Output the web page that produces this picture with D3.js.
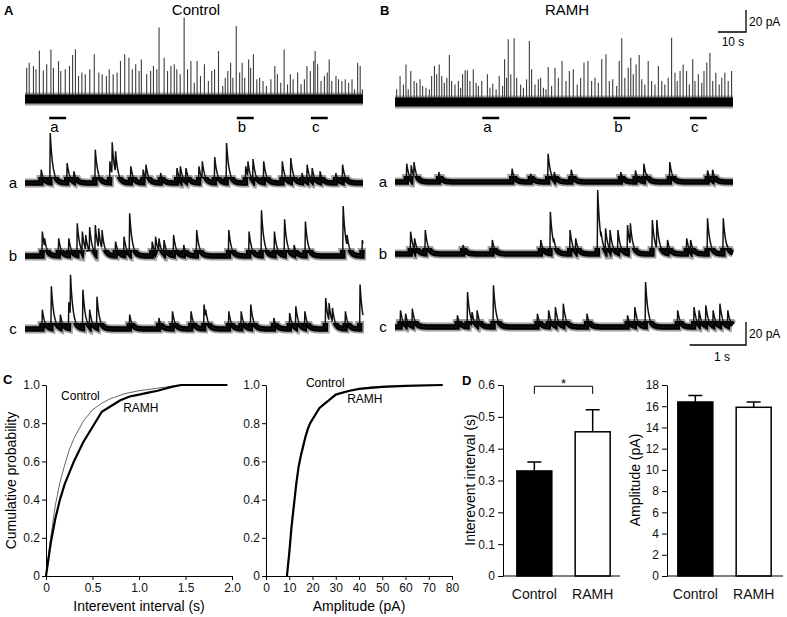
<!DOCTYPE html>
<html>
<head>
<meta charset="utf-8">
<script src="https://cdn.jsdelivr.net/npm/d3@7"></script>
<style>
  body { margin: 0; background: #fff; }
  svg { font-family: "Liberation Sans", Arial, sans-serif; }
</style>
</head>
<body>
<div id="fig"></div>
<script>
// ---------------- data ----------------
// overview recordings: [time (s), peak amplitude (pA)]
var ctrlOverview = [[0.6,28.5],[1.5,33],[3.0,30],[3.9,27],[5.1,44],[6.5,26],[7.7,31.5],[9.2,45],[10.1,28.5],[11.9,34.5],[12.7,25.5],[14.3,27],[15.8,30],[16.9,40],[17.9,45],[19.0,21],[20.2,24],[21.4,22.5],[23.0,27],[24.6,40.6],[26.2,24],[27.4,22.5],[28.9,21],[29.9,27],[31.3,22.5],[32.7,24],[33.9,34.5],[35.4,40.6],[36.9,37.5],[38.1,27],[39.3,31.5],[40.5,25.5],[41.3,36],[43.2,22.5],[44.6,25.5],[45.6,30],[46.8,27],[47.6,65],[49.4,37.5],[50.6,25.5],[51.8,30],[53.0,31.5],[53.9,27],[55.1,22.5],[56.5,74],[57.7,27],[58.9,34.5],[60.1,14.8],[61.1,34.5],[62.3,21],[63.7,31.5],[65.1,16.4],[66.3,25.5],[67.3,27],[68.7,43.6],[70.2,11.8],[71.1,19.4],[72.0,25.5],[73.0,33],[73.8,19.4],[75.0,66.4],[76.2,24],[77.1,33],[78.0,19.4],[79.4,36],[80.1,28.5],[81.1,40.6],[82.3,18],[83.3,19.4],[84.5,16.4],[85.7,11.8],[87.3,18],[88.7,30],[89.6,22.5],[90.8,14.8],[92.0,45],[93.2,13.3],[94.2,22.5],[95.2,18],[96.8,24],[98.0,13.3],[99.2,18],[100.1,30],[101.3,25.5],[102.5,34.5],[103.0,43.6],[103.9,31.5],[105.1,16.4],[106.3,21],[107.3,24],[108.0,36],[108.9,16.4],[110.4,21],[111.3,18],[112.5,16.4],[113.7,18],[114.9,14.8],[116.1,18],[117.0,8.8],[118.1,33],[119.0,30],[119.8,8.8]];
var ramhOverview = [[0.6,11.5],[1.8,23.6],[3.0,16],[3.9,34.2],[4.7,11.5],[5.6,28.2],[6.8,19],[7.7,17.6],[8.9,20.6],[9.8,14.5],[11.0,13],[12.2,11.5],[13.0,23.6],[14.0,32.7],[14.8,25.2],[15.7,34.2],[16.6,23.6],[17.5,17.6],[18.4,22.1],[19.3,42.7],[20.1,19],[21.3,16],[22.5,19],[23.3,13],[24.0,25.2],[24.9,28.8],[25.7,28.8],[26.6,19],[27.8,29.7],[28.8,17.6],[29.6,14.5],[30.8,19],[32.8,25.2],[33.7,13],[34.7,16.7],[35.9,11.5],[37.0,23.6],[38.2,14.5],[38.9,38.8],[39.6,22.1],[40.2,57],[41.1,25.2],[42.3,57.9],[43.2,22.1],[44.6,16],[45.6,13],[46.7,20.6],[47.7,55.5],[48.5,29.7],[49.7,16],[50.9,20.6],[51.7,22.1],[52.7,13],[53.6,11.5],[54.4,31.8],[55.6,14.5],[56.8,31.2],[58.0,22.1],[59.3,37.3],[60.7,19],[61.9,28.2],[63.3,29.7],[64.7,16],[65.9,22.1],[67.1,35.8],[68.5,37.3],[69.8,19],[71.0,22.1],[72.2,17.6],[73.4,38.8],[74.9,43.3],[76.1,19],[77.3,20.6],[78.7,14.5],[79.6,37.3],[80.5,57.9],[81.6,22.1],[82.8,31.2],[83.7,40.3],[84.6,25.2],[85.6,34.2],[86.7,42.7],[87.6,20.6],[88.7,16],[89.9,37.3],[91.1,19],[92.3,16],[93.5,32.7],[94.7,19],[95.8,16],[97.0,22.1],[98.2,58.5],[99.4,26.7],[100.2,19],[101.2,28.2],[102.3,34.2],[103.5,28.2],[104.5,16],[105.7,38.8],[106.5,19],[107.7,25.2],[108.9,17.6],[109.7,28.2],[110.7,35.8],[111.8,44.8],[112.8,19],[113.9,26.7],[115.1,16],[116.0,22.1],[117.1,26.7],[118.3,19],[119.5,28.2]];

// start of the expanded 6 s windows a, b, c (s)
var windowLabels = ["a", "b", "c"];
var ctrlWindows = [8.6, 75.2, 101.5];
var ramhWindows = [31.0, 77.5, 104.7];

// expanded traces: [time (s), peak amplitude (pA)]
var ctrlA = [[0.28,11.6],[0.44,43.5],[0.74,17.4],[0.86,10.1],[1.24,29],[1.50,18.8],[1.54,35.4],[1.60,27.5],[1.87,14.5],[2.09,11.6],[2.14,15.9],[2.40,8.7],[2.69,13],[2.75,14.5],[2.85,13],[3.08,14.5],[3.14,18.8],[3.36,22.6],[3.57,34.8],[3.91,14.5],[3.95,18.8],[4.04,20.9],[4.23,18.8],[4.56,18.8],[4.71,21.7],[4.91,8.7],[5.00,15.9],[5.09,13],[5.23,10.1],[5.51,8.7],[5.63,15.9]];
var ctrlB = [[0.30,21.2],[0.34,15.4],[0.59,15.4],[0.77,15.4],[0.92,28.4],[1.01,21.2],[1.07,18.3],[1.14,25.2],[1.24,27],[1.30,24],[1.36,22.6],[1.60,12.5],[1.75,16.8],[1.85,37.1],[2.25,12.5],[2.31,16.8],[2.37,15.4],[2.46,13.9],[2.63,18.3],[2.81,9.6],[3.04,22.6],[3.61,22.6],[3.97,21.2],[4.19,39.7],[4.42,21.2],[4.60,31.9],[4.77,9.6],[4.97,29.9],[5.64,43.5],[5.71,18.3],[5.98,13.9]];
var ctrlC = [[0.30,16.8],[0.46,37.1],[0.62,12.5],[0.77,23.2],[0.80,47.2],[1.02,34.2],[1.14,16.8],[1.27,28.1],[1.85,12.5],[2.37,9.6],[2.61,15.4],[2.94,15.4],[3.17,21.2],[3.20,16.8],[3.61,15.4],[3.83,15.4],[4.00,21.2],[4.41,9.6],[4.69,13.9],[4.80,19.7],[4.96,15.4],[5.33,27],[5.39,22.6],[5.45,18.3],[5.68,15.4],[5.94,38.6]];
var ramhA = [[0.20,15.9],[0.28,14.5],[0.33,17.4],[0.77,8.7],[2.07,11.6],[2.40,7.2],[2.71,24.6],[2.82,8.7],[3.12,10.7],[4.00,8.7],[4.26,10.1],[4.41,15.9],[4.46,7.2],[4.87,17.4],[5.54,10.1],[5.63,10.7]];
var ramhB = [[0.27,19.4],[0.34,13.6],[0.53,20.9],[1.20,7.8],[1.72,12.2],[2.58,12.2],[2.75,36.8],[2.81,13.6],[3.10,20.9],[3.20,13.6],[3.59,55.7],[3.65,19.4],[3.73,22.3],[3.81,20.9],[3.95,20.9],[4.12,25.2],[4.17,26.7],[4.56,29.6],[4.64,29.6],[4.83,12.2],[5.17,13.6],[5.24,12.2],[5.54,31],[5.82,31],[5.89,7.8]];
var ramhC = [[0.09,14.5],[0.18,11.6],[0.30,15.9],[1.10,10.1],[1.28,30.4],[1.36,13],[1.45,14.5],[1.74,36.2],[2.52,11.6],[2.72,14.5],[2.84,17.4],[2.98,20.3],[3.40,11.6],[4.12,10.1],[4.25,17.4],[4.44,39.1],[5.01,14.5],[5.30,17.4],[5.39,14.5],[5.51,18.8],[5.64,14.5],[5.76,20.3],[5.90,14.5]];

// cumulative distributions: [value, cumulative probability]
var intervalCdfCtrl = [[0,0],[0.05,0.2],[0.1,0.37],[0.15,0.49],[0.2,0.58],[0.25,0.66],[0.3,0.72],[0.4,0.81],[0.5,0.87],[0.6,0.905],[0.7,0.93],[0.85,0.955],[1.0,0.97],[1.15,0.98],[1.3,0.99],[1.5,1.0],[1.95,1.0]];
var intervalCdfRamh = [[0,0],[0.05,0.17],[0.1,0.3],[0.15,0.4],[0.2,0.48],[0.3,0.6],[0.4,0.7],[0.5,0.78],[0.6,0.86],[0.7,0.89],[0.8,0.92],[0.9,0.94],[1.0,0.95],[1.1,0.96],[1.2,0.97],[1.35,0.99],[1.45,1.0],[1.95,1.0]];
var ampCdfCtrl = [[9,0],[10,0.13],[11,0.27],[12,0.38],[13,0.49],[14,0.58],[15,0.64],[16,0.69],[17,0.73],[18,0.77],[19,0.8],[20,0.82],[22,0.86],[24,0.89],[26,0.91],[28,0.93],[30,0.945],[33,0.96],[36,0.97],[40,0.98],[45,0.99],[50,0.993],[60,0.997],[76,1.0]];
var ampCdfRamh = [[9,0],[10,0.12],[11,0.26],[12,0.37],[13,0.48],[14,0.57],[15,0.63],[16,0.68],[17,0.73],[18,0.77],[19,0.8],[20,0.82],[22,0.86],[23,0.88],[25,0.9],[27,0.92],[30,0.95],[33,0.96],[36,0.97],[40,0.98],[45,0.985],[50,0.99],[60,0.995],[76,1.0]];

// bar charts
var barCats = ["Control", "RAMH"];
var intervalMean = [0.33, 0.453];
var intervalSem = [0.028, 0.069];
var ampMean = [16.4, 15.9];
var ampSem = [0.6, 0.5];

// tick values
var cdfTicks = [0, 0.2, 0.4, 0.6, 0.8, 1.0];
var intervalTicks = [0, 0.5, 1.0, 1.5, 2.0];
var ampTicks = [0, 10, 20, 30, 40, 50, 60, 70, 80];
var intervalBarTicks = [0, 0.1, 0.2, 0.3, 0.4, 0.5, 0.6];
var ampBarTicks = [0, 2, 4, 6, 8, 10, 12, 14, 16, 18];

// ---------------- figure ----------------
var svgWidth = 787;
var svgHeight = 617;

var svg = d3.select("#fig")
    .append("svg")
    .attr("width", svgWidth)
    .attr("height", svgHeight);

var defs = svg.append("defs");

// panel letters and titles
svg.append("text").attr("x", 4).attr("y", 15).attr("font-size", 13).attr("font-weight", "bold").text("A");
svg.append("text").attr("x", 380).attr("y", 15).attr("font-size", 13).attr("font-weight", "bold").text("B");
svg.append("text").attr("x", 3).attr("y", 384).attr("font-size", 13).attr("font-weight", "bold").text("C");
svg.append("text").attr("x", 462).attr("y", 385).attr("font-size", 13).attr("font-weight", "bold").text("D");
svg.append("text").attr("x", 196).attr("y", 15).attr("font-size", 15).attr("text-anchor", "middle").text("Control");
svg.append("text").attr("x", 567).attr("y", 15).attr("font-size", 15).attr("text-anchor", "middle").text("RAMH");

// ---------- overview traces ----------
var ovAmp = d3.scaleLinear().domain([0, 20]).range([0, 22]);
var ovCtrlX = d3.scaleLinear().domain([0, 120]).range([25, 363]);
var ovRamhX = d3.scaleLinear().domain([0, 120]).range([395, 733]);

function drawOverview(events, xs, base, windows) {
    var g = svg.append("g");
    // events (drawn first so the baseline band covers their foot)
    g.selectAll(".spike")
        .data(events)
        .enter()
        .append("line")
        .attr("class", "spike")
        .attr("x1", d => xs(d[0])).attr("x2", d => xs(d[0]))
        .attr("y1", base)
        .attr("y2", d => base - ovAmp(d[1]))
        .attr("stroke", "#3c3c3c")
        .attr("stroke-width", 1.1);
    // noisy baseline band
    g.append("line")
        .attr("x1", xs(0)).attr("x2", xs(120))
        .attr("y1", base).attr("y2", base)
        .attr("stroke", "#555").attr("stroke-opacity", 0.55).attr("stroke-width", 13);
    g.append("line")
        .attr("x1", xs(0)).attr("x2", xs(120))
        .attr("y1", base).attr("y2", base)
        .attr("stroke", "#000").attr("stroke-width", 9);
    // markers for expanded windows
    g.selectAll(".win")
        .data(windows)
        .enter()
        .append("line")
        .attr("x1", d => xs(d)).attr("x2", d => xs(d + 6))
        .attr("y1", 118).attr("y2", 118)
        .attr("stroke", "#000").attr("stroke-width", 2.5);
    g.selectAll(".winlabel")
        .data(windows)
        .enter()
        .append("text")
        .attr("x", d => xs(d) + 1)
        .attr("y", 132)
        .attr("font-size", 15)
        .text((d, i) => windowLabels[i]);
}

drawOverview(ctrlOverview, ovCtrlX, 99, ctrlWindows);
drawOverview(ramhOverview, ovRamhX, 102, ramhWindows);

// overview scale bar (20 pA, 10 s)
svg.append("path")
    .attr("d", "M" + (746 - (ovCtrlX(10) - ovCtrlX(0))) + ",32H746V" + (32 - ovAmp(20)))
    .attr("fill", "none").attr("stroke", "#000").attr("stroke-width", 1.3);
svg.append("text").attr("x", 749).attr("y", 26).attr("font-size", 12).text("20 pA");
svg.append("text").attr("x", 733).attr("y", 46).attr("font-size", 12).attr("text-anchor", "middle").text("10 s");

// ---------- expanded traces ----------
var riseTime = 0.008;
var decayTau = 0.045;
var dAmp = d3.scaleLinear().domain([0, 20]).range([0, 23]);
var dCtrlX = d3.scaleLinear().domain([0, 6]).range([25, 363]);
var dRamhX = d3.scaleLinear().domain([0, 6]).range([395, 733]);

function traceValue(events, t) {
    var v = 0;
    events.forEach(function (e) {
        var d = t - e[0];
        if (d < 0) return;
        var k = d < riseTime ? d / riseTime : Math.exp(-(d - riseTime) / decayTau);
        v = Math.max(v, e[1] * k);
    });
    return v;
}

var clipCount = 0;
function bandClip(xs, y0, y1) {
    var id = "clip" + (clipCount++);
    defs.append("clipPath").attr("id", id)
        .append("rect")
        .attr("x", xs(0) - 3).attr("width", xs(6) - xs(0) + 6)
        .attr("y", y0).attr("height", y1 - y0);
    return "url(#" + id + ")";
}

function drawDetail(events, xs, base, label) {
    var times = d3.range(0, 6.0001, 0.004);
    events.forEach(function (e) { times.push(e[0], e[0] + riseTime); });
    times = times.filter(t => t <= 6).sort(d3.ascending);

    var line = d3.line()
        .x(t => xs(t))
        .y(t => base - dAmp(traceValue(events, t)));
    var d = line(times);

    var g = svg.append("g");
    g.append("path").attr("d", d)
        .attr("fill", "none").attr("stroke", "#777").attr("stroke-opacity", 0.7).attr("stroke-width", 9)
        .attr("clip-path", bandClip(xs, base - 8, base + 5.5));
    g.append("path").attr("d", d)
        .attr("fill", "none").attr("stroke", "#000").attr("stroke-width", 5.5)
        .attr("clip-path", bandClip(xs, base - 6, base + 3));
    g.append("path").attr("d", d)
        .attr("fill", "none").attr("stroke", "#111").attr("stroke-width", 1.5);

    if (label) {
        svg.append("text")
            .attr("x", xs(0) - 12).attr("y", base + 5)
            .attr("font-size", 15).attr("text-anchor", "middle")
            .text(label);
    }
}

drawDetail(ctrlA, dCtrlX, 183, "a");
drawDetail(ctrlB, dCtrlX, 256, "b");
drawDetail(ctrlC, dCtrlX, 329, "c");
drawDetail(ramhA, dRamhX, 182, "a");
drawDetail(ramhB, dRamhX, 254, "b");
drawDetail(ramhC, dRamhX, 327, "c");

// detail scale bar (20 pA, 1 s)
svg.append("path")
    .attr("d", "M" + (746 - (dRamhX(1) - dRamhX(0))) + ",345H746V" + (345 - dAmp(20)))
    .attr("fill", "none").attr("stroke", "#000").attr("stroke-width", 1.3);
svg.append("text").attr("x", 749).attr("y", 338).attr("font-size", 12).text("20 pA");
svg.append("text").attr("x", 722).attr("y", 361).attr("font-size", 12).attr("text-anchor", "middle").text("1 s");

// ---------- C: cumulative plots ----------
var fmt = d => d === 0 ? "0" : d3.format(".1f")(d);
var cY = d3.scaleLinear().domain([0, 1]).range([576, 385]);
var cX1 = d3.scaleLinear().domain([0, 2]).range([46, 232]);
var cX2 = d3.scaleLinear().domain([0, 80]).range([266, 452]);

function styleAxis(g, size) {
    g.attr("font-size", size).attr("font-family", null);
    g.selectAll("path, line").attr("stroke", "#000");
    g.selectAll("text").attr("fill", "#111");
}

function drawCdf(xScale, xTicks, xFormat, xTitle, yTitle, ctrl, ramh, labels) {
    var gx = svg.append("g")
        .attr("transform", "translate(0," + cY(0) + ")")
        .call(d3.axisBottom(xScale).tickValues(xTicks).tickFormat(xFormat).tickSize(4).tickSizeOuter(0).tickPadding(3));
    styleAxis(gx, 12);
    var gy = svg.append("g")
        .attr("transform", "translate(" + xScale(0) + ",0)")
        .call(d3.axisLeft(cY).tickValues(cdfTicks).tickFormat(fmt).tickSize(4).tickSizeOuter(0).tickPadding(2));
    styleAxis(gy, 12);

    var line = d3.line().x(d => xScale(d[0])).y(d => cY(d[1]));
    svg.append("path").datum(ctrl).attr("d", line)
        .attr("fill", "none").attr("stroke", "#555").attr("stroke-width", 0.9);
    svg.append("path").datum(ramh).attr("d", line)
        .attr("fill", "none").attr("stroke", "#000").attr("stroke-width", 2.2);

    svg.append("text")
        .attr("x", (xScale.range()[0] + xScale.range()[1]) / 2)
        .attr("y", 611).attr("font-size", 14).attr("text-anchor", "middle")
        .text(xTitle);
    if (yTitle) {
        svg.append("text")
            .attr("transform", "translate(16," + cY(0.5) + ") rotate(-90)")
            .attr("font-size", 14).attr("text-anchor", "middle")
            .text(yTitle);
    }
    labels.forEach(function (l) {
        svg.append("text")
            .attr("x", xScale(l[1])).attr("y", cY(l[2]))
            .attr("font-size", 12).attr("text-anchor", "middle")
            .text(l[0]);
    });
}

drawCdf(cX1, intervalTicks, fmt, "Interevent interval (s)", "Cumulative probability",
    intervalCdfCtrl, intervalCdfRamh, [["Control", 0.37, 0.92], ["RAMH", 1.02, 0.86]]);
drawCdf(cX2, ampTicks, d3.format("d"), "Amplitude (pA)", null,
    ampCdfCtrl, ampCdfRamh, [["Control", 25.5, 0.99], ["RAMH", 42.5, 0.905]]);

// ---------- D: bar charts ----------
function drawBars(yScale, yTicks, yFormat, yTitle, titleX, x0, x1, bandRange, means, sems) {
    var xBand = d3.scaleBand().domain(barCats).range(bandRange).paddingInner(0.4).paddingOuter(0.1);
    var g = svg.append("g");

    g.selectAll(".bar")
        .data(barCats)
        .enter()
        .append("rect")
        .attr("x", d => xBand(d))
        .attr("y", (d, i) => yScale(means[i]))
        .attr("width", xBand.bandwidth())
        .attr("height", (d, i) => yScale(0) - yScale(means[i]))
        .attr("fill", (d, i) => i === 0 ? "#000" : "#fff")
        .attr("stroke", "#000")
        .attr("stroke-width", 1.5);

    // error bars (upper only)
    g.selectAll(".err")
        .data(barCats)
        .enter()
        .append("path")
        .attr("d", function (d, i) {
            var cx = xBand(d) + xBand.bandwidth() / 2;
            var top = yScale(means[i] + sems[i]);
            return "M" + cx + "," + yScale(means[i]) + "V" + top + "M" + (cx - 7) + "," + top + "H" + (cx + 7);
        })
        .attr("fill", "none").attr("stroke", "#000").attr("stroke-width", 1.5);

    // x baseline and category labels
    g.append("line")
        .attr("x1", x0).attr("x2", x1)
        .attr("y1", yScale(0)).attr("y2", yScale(0))
        .attr("stroke", "#000");
    var gx = g.append("g")
        .attr("transform", "translate(0," + yScale(0) + ")")
        .call(d3.axisBottom(xBand).tickSize(0).tickPadding(13));
    gx.select(".domain").remove();
    styleAxis(gx, 14);

    var gy = g.append("g")
        .attr("transform", "translate(" + x0 + ",0)")
        .call(d3.axisLeft(yScale).tickValues(yTicks).tickFormat(yFormat).tickSize(5).tickSizeOuter(0).tickPadding(3));
    styleAxis(gy, 12);

    g.append("text")
        .attr("transform", "translate(" + titleX + ",480) rotate(-90)")
        .attr("font-size", 14).attr("text-anchor", "middle")
        .text(yTitle);
    return xBand;
}

var dY1 = d3.scaleLinear().domain([0, 0.6]).range([576, 385]);
var dY2 = d3.scaleLinear().domain([0, 18]).range([576, 385]);
var band1 = drawBars(dY1, intervalBarTicks, fmt, "Interevent interval (s)", 475, 503, 620, [511, 616], intervalMean, intervalSem);
drawBars(dY2, ampBarTicks, d3.format("d"), "Amplitude (pA)", 640, 667, 783, [672, 777], ampMean, ampSem);

// significance bracket
var bx1 = band1("Control") + band1.bandwidth() / 2;
var bx2 = band1("RAMH") + band1.bandwidth() / 2;
svg.append("path")
    .attr("d", "M" + bx1 + "," + dY1(0.572) + "V" + dY1(0.596) + "H" + bx2 + "V" + dY1(0.572))
    .attr("fill", "none").attr("stroke", "#000").attr("stroke-width", 1);
svg.append("text")
    .attr("x", (bx1 + bx2) / 2).attr("y", dY1(0.596) + 2)
    .attr("font-size", 13).attr("text-anchor", "middle")
    .text("*");
</script>
</body>
</html>
